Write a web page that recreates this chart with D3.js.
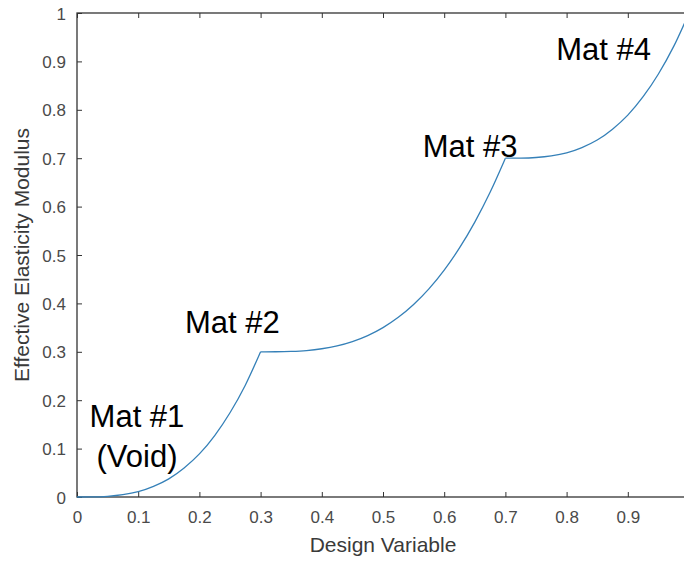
<!DOCTYPE html>
<html>
<head>
<meta charset="utf-8">
<script src="https://cdn.jsdelivr.net/npm/d3@7"></script>
<style>
  html, body { margin: 0; padding: 0; background: #fff; }
  svg { display: block; }
  text { font-family: "Liberation Sans", Arial, Helvetica, sans-serif; }
</style>
</head>
<body>
<svg id="chart" width="684" height="562"></svg>
<script>
// Design variable samples and the effective modulus read at each one
const designVariable = [
  0, 0.025, 0.05, 0.075, 0.1, 0.125, 0.15, 0.175, 0.2, 0.225, 0.25, 0.275, 0.3,
  0.325, 0.35, 0.375, 0.4, 0.425, 0.45, 0.475, 0.5, 0.525, 0.55, 0.575, 0.6, 0.625, 0.65, 0.675, 0.7,
  0.725, 0.75, 0.775, 0.8, 0.825, 0.85, 0.875, 0.9, 0.925, 0.95, 0.975, 1.0
];
const effectiveModulus = [
  0, 0.0002, 0.0014, 0.0047, 0.011, 0.022, 0.0375, 0.060, 0.089, 0.127, 0.174, 0.231, 0.3,
  0.3001, 0.3008, 0.3026, 0.3063, 0.3122, 0.3211, 0.3335, 0.35, 0.3712, 0.3977, 0.430, 0.4688, 0.5146, 0.568, 0.6296, 0.7,
  0.7002, 0.7014, 0.7047, 0.711, 0.722, 0.7375, 0.760, 0.789, 0.827, 0.874, 0.931, 1.0
];
// Design-variable values where one material phase hands over to the next
const materialBreaks = [0.3, 0.7];

const xTicks = [0, 0.1, 0.2, 0.3, 0.4, 0.5, 0.6, 0.7, 0.8, 0.9];
const yTicks = [0, 0.1, 0.2, 0.3, 0.4, 0.5, 0.6, 0.7, 0.8, 0.9, 1];

const annotations = [
  { lines: ["Mat #1", "(Void)"], x: 0.098, y: 0.145, anchor: "middle" },
  { lines: ["Mat #2"], x: 0.1765, y: 0.339, anchor: "start" },
  { lines: ["Mat #3"], x: 0.565, y: 0.702, anchor: "start" },
  { lines: ["Mat #4"], x: 0.783, y: 0.903, anchor: "start" }
];

const xLabel = "Design Variable";
const yLabel = "Effective Elasticity Modulus";

const svg = d3.select("#chart");
const plotLeft = 77, plotRight = 689, plotTop = 13, plotBottom = 497;
const axisColor = "#333333";
const tickLen = 5;

const x = d3.scaleLinear().domain([0, 1]).range([plotLeft, plotRight]);
const y = d3.scaleLinear().domain([0, 1]).range([plotBottom, plotTop]);

const fmt = v => (v === 0 ? "0" : v === 1 ? "1" : d3.format(".1f")(v));

// Bottom axis with inward ticks
const gx = svg.append("g").attr("transform", `translate(0,${plotBottom})`)
  .call(d3.axisBottom(x).tickValues(xTicks).tickFormat(fmt)
    .tickSizeInner(-tickLen).tickSizeOuter(0).tickPadding(14));
// Left axis with inward ticks
const gy = svg.append("g").attr("transform", `translate(${plotLeft},0)`)
  .call(d3.axisLeft(y).tickValues(yTicks).tickFormat(fmt)
    .tickSizeInner(-tickLen).tickSizeOuter(0).tickPadding(11));
// Top and right axes: ticks only
const gt = svg.append("g").attr("transform", `translate(0,${plotTop})`)
  .call(d3.axisTop(x).tickValues(xTicks).tickFormat("")
    .tickSizeInner(-tickLen).tickSizeOuter(0));
const gr = svg.append("g").attr("transform", `translate(${plotRight},0)`)
  .call(d3.axisRight(y).tickValues(yTicks).tickFormat("")
    .tickSizeInner(-tickLen).tickSizeOuter(0));

[gx, gy, gt, gr].forEach(g => {
  g.select(".domain").remove();
  g.selectAll(".tick line").attr("stroke", axisColor).attr("stroke-width", 1);
  g.selectAll(".tick text")
    .attr("fill", "#4a4a4a")
    .style("font-size", "17px")
    .style("font-family", "'Liberation Sans', Arial, sans-serif");
});
gy.selectAll(".tick text").attr("dy", "0.36em");

// Axes box
svg.append("rect")
  .attr("x", plotLeft).attr("y", plotTop)
  .attr("width", plotRight - plotLeft).attr("height", plotBottom - plotTop)
  .attr("fill", "none").attr("stroke", axisColor).attr("stroke-width", 1.3);

// Curve: drawn one material phase at a time so the joins stay sharp
const points = designVariable.map((d, i) => [d, effectiveModulus[i]]);
const bounds = [0, ...materialBreaks, 1];
const line = d3.line().x(d => x(d[0])).y(d => y(d[1])).curve(d3.curveMonotoneX);
for (let k = 0; k < bounds.length - 1; k++) {
  const seg = points.filter(p => p[0] >= bounds[k] - 1e-9 && p[0] <= bounds[k + 1] + 1e-9);
  svg.append("path")
    .datum(seg)
    .attr("d", line)
    .attr("fill", "none")
    .attr("stroke", "#3580b8")
    .attr("stroke-width", 1.3)
    .attr("stroke-linejoin", "round");
}

// Material annotations
annotations.forEach(a => {
  const t = svg.append("text")
    .attr("x", x(a.x)).attr("y", y(a.y))
    .attr("text-anchor", a.anchor)
    .attr("fill", "#000")
    .style("font-size", "31px");
  a.lines.forEach((s, i) => {
    t.append("tspan").attr("x", x(a.x)).attr("dy", i === 0 ? 0 : "1.3em").text(s);
  });
});

// Axis titles
svg.append("text")
  .attr("x", 383).attr("y", 552)
  .attr("text-anchor", "middle")
  .attr("fill", "#3a3a3a")
  .style("font-size", "21px")
  .text(xLabel);

svg.append("text")
  .attr("transform", `translate(29,${(plotTop + plotBottom) / 2}) rotate(-90)`)
  .attr("text-anchor", "middle")
  .attr("fill", "#3a3a3a")
  .style("font-size", "21px")
  .text(yLabel);
</script>
</body>
</html>
